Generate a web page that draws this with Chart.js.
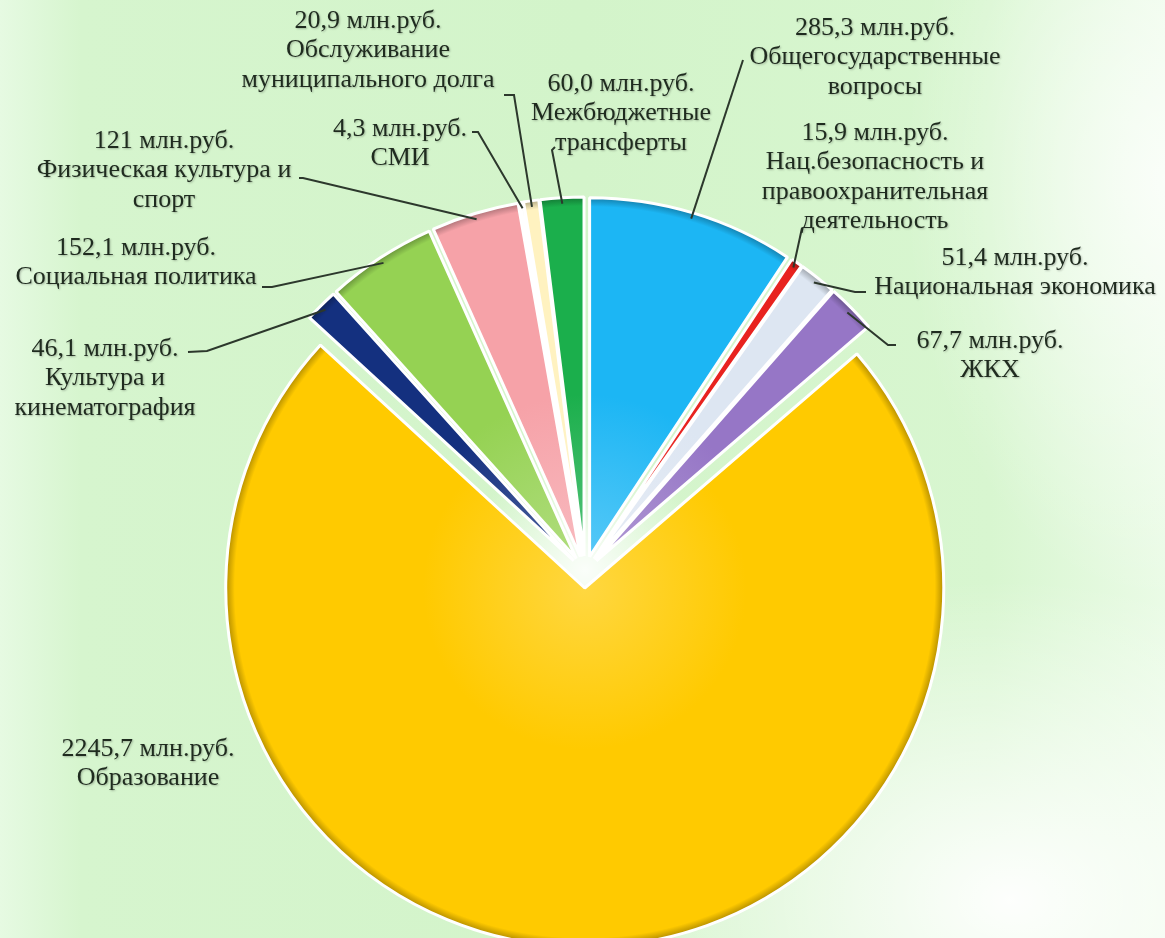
<!DOCTYPE html>
<html lang="ru">
<head>
<meta charset="utf-8">
<title>Структура расходов бюджета</title>
<script src="https://cdn.jsdelivr.net/npm/chart.js@4.4.1/dist/chart.umd.min.js"></script>
<style>
html, body { margin: 0; padding: 0; }
body {
    width: 1165px; height: 938px; overflow: hidden;
    background:
        radial-gradient(ellipse 430px 320px at 1010px 900px, rgba(255,255,255,0.95), rgba(255,255,255,0) 100%),
        radial-gradient(ellipse 260px 420px at 1165px 180px, rgba(255,255,255,0.75), rgba(255,255,255,0) 100%),
        radial-gradient(ellipse 120px 120px at 585px 570px, rgba(255,255,255,0.9), rgba(255,255,255,0) 100%),
        linear-gradient(90deg, #e6fae2 0%, #d6f5ce 7%, #d3f4ca 50%, #d8f6d0 85%, #eafbe6 100%);
}
canvas { display: block; }
</style>
</head>
<body>
<canvas id="myChart" width="1165" height="938"></canvas>
<script>
// data, clockwise from 12 o'clock
const categories = ['Общегосударственные вопросы', 'Нац.безопасность и правоохранительная деятельность',
    'Национальная экономика', 'ЖКХ', 'Образование', 'Культура и кинематография', 'Социальная политика',
    'Физическая культура и спорт', 'СМИ', 'Обслуживание муниципального долга', 'Межбюджетные трансферты']
const values = [285.3, 15.9, 51.4, 67.7, 2245.7, 46.1, 152.1, 121, 4.3, 20.9, 60.0]
const valueLabels = ['285,3', '15,9', '51,4', '67,7', '2245,7', '46,1', '152,1', '121', '4,3', '20,9', '60,0']
const categoryLines = [
    ['Общегосударственные', 'вопросы'],
    ['Нац.безопасность и', 'правоохранительная', 'деятельность'],
    ['Национальная экономика'],
    ['ЖКХ'],
    ['Образование'],
    ['Культура и', 'кинематография'],
    ['Социальная политика'],
    ['Физическая культура и', 'спорт'],
    ['СМИ'],
    ['Обслуживание', 'муниципального долга'],
    ['Межбюджетные', 'трансферты']
]
const colors = ['#1CB6F4', '#E8231F', '#DDE6F2', '#9676C6', '#FFCA00', '#14307F',
    '#95D253', '#F6A2A8', '#E6E2D4', '#FFF2C0', '#1BAF4C']

// label placement: text centre and first line y, then leader line points
const labelPos = [[875, 28], [875, 133], [1015, 258], [990, 341], [148, 749], [105, 349],
    [136, 248], [164, 141], [400, 129], [368, 21], [621, 84]]
const leaderPts = [
    [[743, 60]],
    [[802, 228]],
    [[855, 292], [866, 292]],
    [[888, 345], [896, 345]],
    null,
    [[207, 351], [188, 352]],
    [[272, 287], [262, 287]],
    [[303, 178], [299, 178]],
    [[478, 132], [472, 132]],
    [[514, 95], [504, 95]],
    [[552, 150], [555, 147]]
]

function mix(hex, other, t) {
    const a = parseInt(hex.slice(1), 16), b = parseInt(other.slice(1), 16)
    const ch = (v, s) => (v >> s) & 255
    const c = [16, 8, 0].map(s => Math.round(ch(a, s) * (1 - t) + ch(b, s) * t))
    return `rgb(${c[0]},${c[1]},${c[2]})`
}

function shade(ctx, arc, base) {
    const r = arc.outerRadius
    const g = ctx.createRadialGradient(arc.x, arc.y, 0, arc.x, arc.y, r)
    g.addColorStop(0, mix(base, '#ffffff', 0.25))
    g.addColorStop(0.45, base)
    g.addColorStop(0.975, base)
    g.addColorStop(1, mix(base, '#000000', 0.3))
    return g
}

// pull every slice out from the centre and give it a shaded fill
const explode = {
    id: 'explode',
    afterDatasetsUpdate(chart, args, opts) {
        chart.getDatasetMeta(0).data.forEach((arc, i) => {
            const mid = (arc.startAngle + arc.endAngle) / 2
            arc.x += Math.cos(mid) * opts.distance
            arc.y += Math.sin(mid) * opts.distance
            arc.options.backgroundColor = shade(chart.ctx, arc, colors[i])
        })
    }
}

const leaderLabels = {
    id: 'leaderLabels',
    afterDatasetsDraw(chart) {
        const ctx = chart.ctx
        const lineH = 29.5
        ctx.save()
        chart.getDatasetMeta(0).data.forEach((arc, i) => {
            const pts = leaderPts[i]
            if (pts) {
                const mid = (arc.startAngle + arc.endAngle) / 2
                const rr = arc.outerRadius - 6
                ctx.beginPath()
                ctx.moveTo(arc.x + Math.cos(mid) * rr, arc.y + Math.sin(mid) * rr)
                pts.forEach(p => ctx.lineTo(p[0], p[1]))
                ctx.strokeStyle = '#2c382c'
                ctx.lineWidth = 2
                ctx.stroke()
            }
            const lines = [valueLabels[i] + ' млн.руб.', ...categoryLines[i]]
            ctx.font = "26px 'Liberation Serif', 'Times New Roman', serif"
            ctx.textAlign = 'center'
            ctx.textBaseline = 'middle'
            ctx.fillStyle = '#1f2b1f'
            ctx.shadowColor = 'rgba(0,0,0,0.25)'
            ctx.shadowBlur = 2
            ctx.shadowOffsetX = 1
            ctx.shadowOffsetY = 1
            lines.forEach((t, k) => ctx.fillText(t, labelPos[i][0], labelPos[i][1] + k * lineH))
            ctx.shadowColor = 'transparent'
        })
        ctx.restore()
    }
}

const chart = new Chart(document.getElementById('myChart'), {
    type: 'pie',
    data: {
        labels: categories,
        datasets: [{
            data: values,
            backgroundColor: colors,
            borderColor: '#ffffff',
            borderWidth: 3,
            radius: 359,
            clip: false
        }]
    },
    options: {
        responsive: false,
        animation: false,
        events: [],
        layout: { padding: { left: 5, right: 0, top: 206, bottom: 0 } },
        plugins: {
            legend: { display: false },
            tooltip: { enabled: false },
            explode: { distance: 16 }
        }
    },
    plugins: [explode, leaderLabels]
})
</script>
</body>
</html>
